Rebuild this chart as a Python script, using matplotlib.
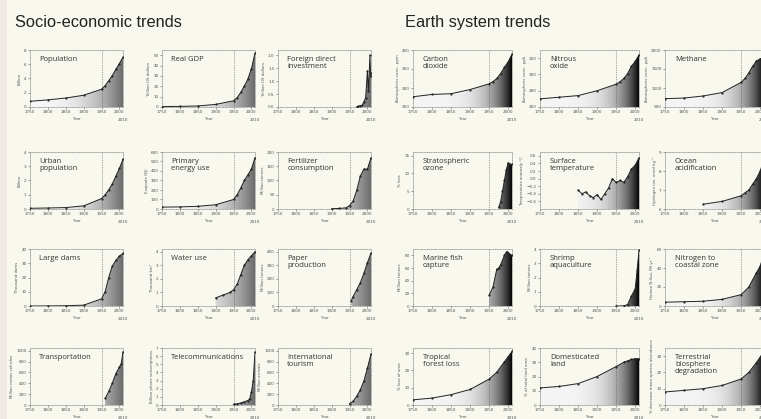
import numpy as np
import matplotlib
matplotlib.use('Agg')
import matplotlib.pyplot as plt
from matplotlib.patches import Polygon, Rectangle

# ---------------- data ----------------
socio_titles = ["Population", "Real GDP", "Foreign direct\ninvestment",
                "Urban\npopulation", "Primary\nenergy use", "Fertilizer\nconsumption",
                "Large dams", "Water use", "Paper\nproduction",
                "Transportation", "Telecommunications", "International\ntourism"]
socio_ylabels = ["Billion", "Trillion US dollars", "Trillion US dollars",
                 "Billion", "Exajoule (EJ)", "Million tonnes",
                 "Thousand dams", "Thousand km³", "Million tonnes",
                 "Million motor vehicles", "Billion phone subscriptions", "Million arrivals"]

pop_years = [1750, 1800, 1850, 1900, 1950, 1960, 1970, 1980, 1990, 2000, 2010]
pop_vals = [0.8, 1.0, 1.26, 1.65, 2.5, 3.0, 3.7, 4.4, 5.3, 6.1, 7.0]
gdp_years = [1750, 1800, 1850, 1900, 1950, 1960, 1970, 1980, 1990, 2000, 2010]
gdp_vals = [0.4, 0.6, 1.0, 2.5, 6, 9, 14, 20, 27, 37, 52]
fdi_years = [1970, 1975, 1980, 1985, 1990, 1995, 2000, 2003, 2007, 2009, 2010]
fdi_vals = [0.01, 0.03, 0.05, 0.06, 0.2, 0.35, 1.4, 0.6, 2.0, 1.2, 1.3]
urb_years = [1750, 1800, 1850, 1900, 1950, 1960, 1970, 1980, 1990, 2000, 2010]
urb_vals = [0.05, 0.07, 0.1, 0.22, 0.73, 1.0, 1.35, 1.75, 2.3, 2.85, 3.5]
eng_years = [1750, 1800, 1850, 1900, 1950, 1960, 1970, 1980, 1990, 2000, 2010]
eng_vals = [20, 22, 28, 45, 100, 150, 220, 300, 360, 420, 540]
fert_years = [1900, 1920, 1940, 1950, 1960, 1970, 1980, 1990, 2000, 2010]
fert_vals = [1, 2, 4, 12, 28, 65, 115, 140, 140, 180]
dam_years = [1750, 1800, 1850, 1900, 1950, 1960, 1970, 1980, 1990, 2000, 2010]
dam_vals = [0, 0.05, 0.2, 0.6, 5, 10, 20, 28, 32, 35, 37]
wat_years = [1900, 1920, 1940, 1950, 1960, 1970, 1980, 1990, 2000, 2010]
wat_vals = [0.6, 0.8, 1.0, 1.2, 1.6, 2.3, 3.0, 3.4, 3.7, 4.0]
pap_years = [1955, 1960, 1970, 1980, 1990, 2000, 2010]
pap_vals = [40, 70, 120, 170, 240, 320, 390]
trn_years = [1960, 1970, 1980, 1990, 2000, 2005, 2010]
trn_vals = [120, 250, 400, 580, 700, 760, 980]
tel_years = [1950, 1960, 1970, 1980, 1990, 1995, 2000, 2005, 2010]
tel_vals = [0.1, 0.15, 0.25, 0.4, 0.55, 0.75, 1.6, 3.0, 6.5]
tour_years = [1950, 1960, 1970, 1980, 1990, 2000, 2010]
tour_vals = [25, 70, 160, 280, 440, 680, 940]

socio_years = [pop_years, gdp_years, fdi_years, urb_years, eng_years, fert_years,
               dam_years, wat_years, pap_years, trn_years, tel_years, tour_years]
socio_vals = [pop_vals, gdp_vals, fdi_vals, urb_vals, eng_vals, fert_vals,
              dam_vals, wat_vals, pap_vals, trn_vals, tel_vals, tour_vals]
socio_ylims = [(0, 8), (0, 55), (0, 2.2), (0, 4), (0, 600), (0, 200),
               (0, 40), (0, 4.2), (0, 420), (0, 1050), (0, 7), (0, 1050)]
socio_yticks = [[0, 2, 4, 6, 8], [0, 10, 20, 30, 40, 50], [0, 0.5, 1, 1.5, 2],
                [0, 1, 2, 3, 4], [0, 100, 200, 300, 400, 500, 600], [0, 50, 100, 150, 200],
                [0, 10, 20, 30, 40], [0, 1, 2, 3, 4], [0, 100, 200, 300, 400],
                [0, 200, 400, 600, 800, 1000], [0, 1, 2, 3, 4, 5, 6, 7], [0, 200, 400, 600, 800, 1000]]

earth_titles = ["Carbon\ndioxide", "Nitrous\noxide", "Methane",
                "Stratospheric\nozone", "Surface\ntemperature", "Ocean\nacidification",
                "Marine fish\ncapture", "Shrimp\naquaculture", "Nitrogen to\ncoastal zone",
                "Tropical\nforest loss", "Domesticated\nland", "Terrestrial\nbiosphere\ndegradation"]
earth_ylabels = ["Atmospheric conc., ppm", "Atmospheric conc., ppb", "Atmospheric conc., ppb",
                 "% loss", "Temperature anomaly °C", "Hydrogen ion, nmol kg⁻¹",
                 "Million tonnes", "Million tonnes", "Human N flux, Mt yr⁻¹",
                 "% loss of area", "% of total land area", "% decrease mean species abundance"]

co2_years = [1750, 1800, 1850, 1900, 1950, 1960, 1970, 1980, 1990, 2000, 2010]
co2_vals = [277, 283, 285, 296, 311, 317, 325, 338, 354, 369, 389]
n2o_years = [1750, 1800, 1850, 1900, 1950, 1960, 1970, 1980, 1990, 2000, 2010]
n2o_vals = [270, 272, 274, 280, 288, 291, 295, 301, 310, 316, 324]
ch4_years = [1750, 1800, 1850, 1900, 1950, 1960, 1970, 1980, 1990, 2000, 2010]
ch4_vals = [720, 735, 790, 880, 1150, 1250, 1400, 1570, 1710, 1770, 1800]
oz_years = [1975, 1980, 1985, 1990, 1995, 2000, 2005, 2010]
oz_vals = [0.5, 2, 5, 8, 11, 13, 12.5, 12.5]
tmp_years = [1850, 1860, 1870, 1880, 1890, 1900, 1910, 1920, 1930, 1940, 1950, 1960, 1970,
             1980, 1990, 2000, 2010]
tmp_vals = [-0.3, -0.4, -0.35, -0.45, -0.5, -0.42, -0.55, -0.4, -0.25, 0.0, -0.1, -0.05,
            -0.1, 0.05, 0.25, 0.35, 0.55]
oa_years = [1850, 1900, 1950, 1960, 1970, 1980, 1990, 2000, 2010]
oa_vals = [6.25, 6.4, 6.7, 6.85, 7.0, 7.3, 7.6, 8.0, 8.6]
fish_years = [1950, 1960, 1970, 1975, 1980, 1990, 1996, 2000, 2010]
fish_vals = [17, 30, 58, 60, 65, 80, 86, 84, 80]
shr_years = [1950, 1970, 1980, 1990, 2000, 2005, 2010]
shr_vals = [0.0, 0.01, 0.1, 0.7, 1.2, 2.5, 3.9]
nit_years = [1750, 1800, 1850, 1900, 1950, 1970, 1990, 2000, 2010]
nit_vals = [4, 4.5, 5, 7, 12, 20, 35, 42, 55]
tfl_years = [1750, 1800, 1850, 1900, 1950, 1970, 1990, 2000, 2010]
tfl_vals = [3, 4, 6, 9, 15, 19, 25, 28, 31]
dom_years = [1750, 1800, 1850, 1900, 1950, 1970, 1980, 1990, 2000, 2010]
dom_vals = [12, 13, 15, 20, 27, 30, 31, 32, 32.5, 32.5]
tbd_years = [1750, 1800, 1850, 1900, 1950, 1970, 1990, 2010]
tbd_vals = [8, 9, 10, 12, 16, 20, 26, 33]

earth_years = [co2_years, n2o_years, ch4_years, oz_years, tmp_years, oa_years,
               fish_years, shr_years, nit_years, tfl_years, dom_years, tbd_years]
earth_vals = [co2_vals, n2o_vals, ch4_vals, oz_vals, tmp_vals, oa_vals,
              fish_vals, shr_vals, nit_vals, tfl_vals, dom_vals, tbd_vals]
earth_ylims = [(250, 400), (260, 330), (500, 2000), (0, 16), (-0.8, 0.7), (6, 9),
               (0, 90), (0, 4), (0, 60), (0, 33), (0, 40), (0, 35)]
earth_yticks = [[250, 300, 350, 400], [260, 280, 300, 320], [500, 1000, 1500, 2000],
                [0, 5, 10, 15], [-0.6, -0.4, -0.2, 0, 0.2, 0.4, 0.6], [6, 7, 8, 9],
                [0, 20, 40, 60, 80], [0, 1, 2, 3, 4], [0, 20, 40, 60],
                [0, 10, 20, 30], [0, 10, 20, 30, 40], [0, 10, 20, 30]]

xticks = [1750, 1800, 1850, 1900, 1950, 2000]

# ---------------- layout ----------------
W, H = 761, 419
BG = '#f8f8ef'
fig = plt.figure(figsize=(W / 100, H / 100), dpi=100, facecolor=BG)
fig.patches.append(Rectangle((0, 0), 7 / W, 1, transform=fig.transFigure,
                             facecolor='#f1e9e4', edgecolor='none', zorder=0))

fig.text(15 / W, 1 - 27 / H, "Socio-economic trends", fontsize=11.8,
         family='Liberation Sans', color='#222222')
fig.text(405 / W, 1 - 27 / H, "Earth system trends", fontsize=11.8,
         family='Liberation Sans', color='#222222')

row_bottoms = [107, 209, 306, 405]
row_h = 57
socio_lefts = [30, 162, 278]
socio_w = 93
earth_lefts = [413, 540, 665]
earth_w = 99

x_grid = np.linspace(1750, 2010, 300)


def draw_panel(ax, years, vals, ylim, yticks, title, ylabel, dark):
    ax.set_facecolor(BG)
    y0 = ylim[0]
    verts = [(years[0], y0)] + list(zip(years, vals)) + [(years[-1], y0)]
    poly = Polygon(verts, closed=True, transform=ax.transData)
    t = (x_grid - 1750) / 260.0
    if dark:
        g = 0.96 - 0.94 * t ** 4.5
    else:
        g = 0.97 - 0.55 * t ** 2.7
    row = np.stack([g, g, g], axis=-1)          # (300, 3)
    img = np.stack([row, row], axis=0)          # (2, 300, 3)
    im = ax.imshow(img, extent=[1750, 2010, ylim[0], ylim[1]], aspect='auto',
                   origin='lower', zorder=1, interpolation='bilinear')
    im.set_clip_path(poly)
    ax.set_xlim(1750, 2010)
    ax.set_ylim(*ylim)
    ax.plot(years, vals, color='#222222', lw=0.7, marker='.', ms=1.2, zorder=3)
    ax.axvline(1950, color='#555555', lw=0.5, ls=(0, (1, 1.5)), zorder=2)
    for s in ax.spines.values():
        s.set_linestyle((0, (1, 1.5)))
        s.set_linewidth(0.5)
        s.set_color('#888888')
    ax.set_xticks(xticks)
    ax.set_xticklabels([str(v) for v in xticks])
    ax.set_yticks(yticks)
    ax.tick_params(labelsize=3, length=1.5, width=0.4, pad=1, colors='#555555')
    ax.text(1.0, -0.2, "2010", transform=ax.transAxes, fontsize=3, color='#555555',
            ha='center', va='top')
    ax.set_xlabel("Year", fontsize=3, labelpad=1.5, color='#555555')
    ax.set_ylabel(ylabel, fontsize=2.8, labelpad=1.5, color='#555555')
    ax.text(0.1, 0.9, title, transform=ax.transAxes, fontsize=5.5, va='top', ha='left',
            family='Open Sans', color='#333333', linespacing=1.0, zorder=4)


for i in range(12):
    r, c = divmod(i, 3)
    ax = fig.add_axes([socio_lefts[c] / W, 1 - row_bottoms[r] / H, socio_w / W, row_h / H])
    draw_panel(ax, socio_years[i], socio_vals[i], socio_ylims[i], socio_yticks[i],
               socio_titles[i], socio_ylabels[i], dark=False)
    ax = fig.add_axes([earth_lefts[c] / W, 1 - row_bottoms[r] / H, earth_w / W, row_h / H])
    draw_panel(ax, earth_years[i], earth_vals[i], earth_ylims[i], earth_yticks[i],
               earth_titles[i], earth_ylabels[i], dark=True)

fig.savefig('out.png', dpi=100, facecolor=BG)
